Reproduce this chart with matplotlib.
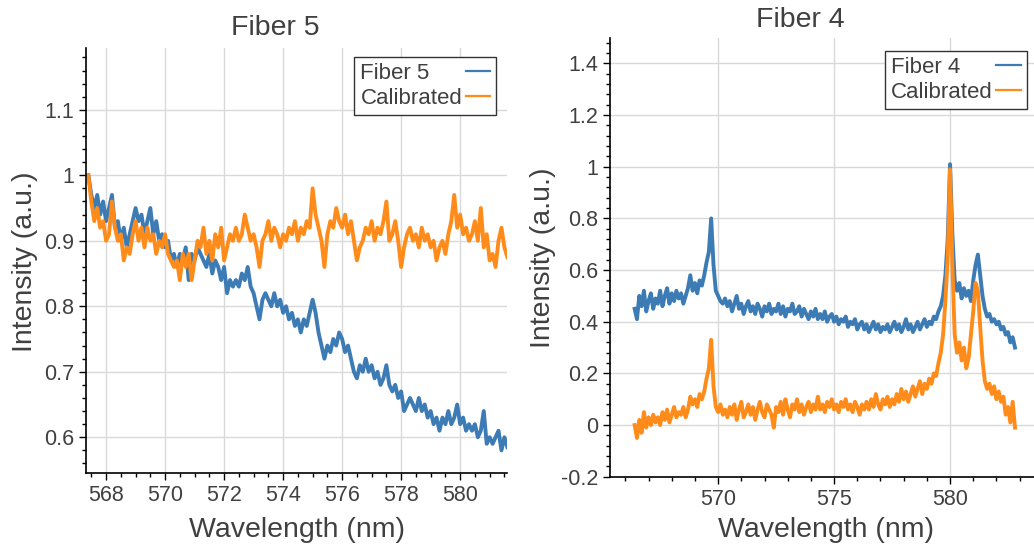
import numpy as np
import matplotlib
matplotlib.use("Agg")
from matplotlib import pyplot as plt
from matplotlib.ticker import MultipleLocator

plt.rcParams['font.family'] = ['Liberation Sans', 'DejaVu Sans']

# wavelength grids (nm)
wl5_start, wl5_step, wl5_n = 567.4, 0.1, 143
wl4_start, wl4_step, wl4_n = 566.4, 0.1, 165

# Fiber 5 spectrum and calibrated version
fiber5 = [1.00, 0.97, 0.95, 0.97, 0.94, 0.96, 0.93, 0.95, 0.97, 0.92,
          0.93, 0.90, 0.92, 0.89, 0.91, 0.93, 0.95, 0.93, 0.94, 0.91,
          0.93, 0.95, 0.91, 0.93, 0.90, 0.91, 0.89, 0.90, 0.87, 0.88,
          0.86, 0.88, 0.87, 0.89, 0.84, 0.88, 0.87, 0.89, 0.88, 0.87,
          0.86, 0.88, 0.85, 0.87, 0.86, 0.84, 0.86, 0.82, 0.84, 0.83,
          0.84, 0.83, 0.85, 0.84, 0.86, 0.83, 0.82, 0.80, 0.78, 0.81,
          0.82, 0.81, 0.80, 0.82, 0.80, 0.81, 0.79, 0.80, 0.78, 0.79,
          0.77, 0.78, 0.76, 0.78, 0.77, 0.79, 0.81, 0.79, 0.76, 0.74,
          0.72, 0.74, 0.73, 0.75, 0.74, 0.76, 0.75, 0.73, 0.74, 0.72,
          0.70, 0.69, 0.71, 0.70, 0.72, 0.70, 0.71, 0.69, 0.70, 0.68,
          0.69, 0.71, 0.68, 0.67, 0.68, 0.66, 0.67, 0.64, 0.65, 0.66,
          0.65, 0.64, 0.66, 0.64, 0.65, 0.63, 0.64, 0.62, 0.63, 0.61,
          0.63, 0.62, 0.64, 0.62, 0.63, 0.65, 0.62, 0.63, 0.61, 0.62,
          0.61, 0.62, 0.60, 0.61, 0.64, 0.59, 0.60, 0.59, 0.60, 0.61,
          0.58, 0.60, 0.585]
calib5 = [1.00, 0.96, 0.93, 0.95, 0.92, 0.93, 0.90, 0.91, 0.96, 0.92,
          0.90, 0.91, 0.87, 0.89, 0.88, 0.91, 0.93, 0.90, 0.92, 0.89,
          0.92, 0.90, 0.91, 0.88, 0.90, 0.89, 0.91, 0.88, 0.87, 0.86,
          0.87, 0.84, 0.88, 0.86, 0.88, 0.84, 0.87, 0.90, 0.89, 0.92,
          0.88, 0.90, 0.87, 0.91, 0.89, 0.92, 0.87, 0.89, 0.91, 0.90,
          0.92, 0.90, 0.91, 0.94, 0.92, 0.90, 0.91, 0.89, 0.86, 0.90,
          0.91, 0.93, 0.90, 0.92, 0.91, 0.89, 0.91, 0.90, 0.92, 0.91,
          0.93, 0.90, 0.92, 0.91, 0.93, 0.92, 0.98, 0.94, 0.92, 0.90,
          0.86, 0.91, 0.93, 0.92, 0.95, 0.93, 0.92, 0.94, 0.91, 0.93,
          0.90, 0.87, 0.89, 0.90, 0.92, 0.91, 0.93, 0.90, 0.92, 0.91,
          0.93, 0.96, 0.90, 0.91, 0.93, 0.90, 0.86, 0.89, 0.91, 0.92,
          0.90, 0.91, 0.89, 0.92, 0.90, 0.91, 0.89, 0.90, 0.87, 0.89,
          0.90, 0.88, 0.91, 0.93, 0.97, 0.92, 0.94, 0.91, 0.92, 0.90,
          0.91, 0.93, 0.90, 0.95, 0.89, 0.91, 0.87, 0.88, 0.86, 0.90,
          0.92, 0.89, 0.875]

# Fiber 4 spectrum and calibrated version
fiber4 = [0.45, 0.41, 0.50, 0.46, 0.52, 0.44, 0.48, 0.51, 0.45, 0.49,
          0.47, 0.52, 0.46, 0.50, 0.53, 0.47, 0.51, 0.48, 0.52, 0.49,
          0.51, 0.47, 0.50, 0.53, 0.58, 0.52, 0.55, 0.51, 0.56, 0.54,
          0.58, 0.63, 0.67, 0.80, 0.62, 0.52, 0.50, 0.48, 0.47, 0.49,
          0.46, 0.48, 0.44, 0.47, 0.50, 0.45, 0.47, 0.43, 0.46, 0.48,
          0.44, 0.46, 0.43, 0.47, 0.45, 0.42, 0.46, 0.44, 0.47, 0.43,
          0.45, 0.44, 0.47, 0.43, 0.46, 0.42, 0.45, 0.44, 0.47, 0.43,
          0.44, 0.46, 0.42, 0.45, 0.43, 0.41, 0.44, 0.42, 0.45, 0.41,
          0.43, 0.41, 0.44, 0.40, 0.42, 0.43, 0.40, 0.42, 0.39, 0.41,
          0.40, 0.42, 0.38, 0.40, 0.39, 0.41, 0.37, 0.39, 0.40, 0.37,
          0.39, 0.36, 0.38, 0.40, 0.37, 0.39, 0.36, 0.38, 0.37, 0.39,
          0.36, 0.38, 0.40, 0.37, 0.39, 0.36, 0.38, 0.41, 0.37, 0.39,
          0.36, 0.38, 0.40, 0.37, 0.39, 0.41, 0.38, 0.40, 0.39, 0.42,
          0.41, 0.44, 0.46, 0.50, 0.58, 0.72, 1.01, 0.74, 0.56, 0.52,
          0.55, 0.49, 0.53, 0.50, 0.52, 0.48, 0.56, 0.62, 0.66, 0.58,
          0.50, 0.45, 0.42, 0.43, 0.40, 0.41, 0.39, 0.40, 0.37, 0.38,
          0.35, 0.36, 0.32, 0.34, 0.30]
calib4 = [0.00, -0.05, 0.02, -0.03, 0.05, -0.01, 0.03, 0.00, 0.04, 0.01,
          0.03, 0.00, 0.05, 0.02, 0.06, 0.01, 0.04, 0.07, 0.03, 0.05,
          0.04, 0.07, 0.03, 0.06, 0.11, 0.08, 0.10, 0.07, 0.12, 0.10,
          0.13, 0.18, 0.22, 0.33, 0.15, 0.07, 0.05, 0.08, 0.04, 0.06,
          0.03, 0.07, 0.04, 0.08, 0.02, 0.06, 0.09, 0.03, 0.05, 0.08,
          0.04, 0.07, 0.02, 0.06, 0.09, 0.05, 0.03, 0.08, 0.06, 0.04,
          -0.01, 0.07, 0.05, 0.09, 0.04, 0.10, 0.06, 0.03, 0.08, 0.06,
          0.10, 0.05, 0.08, 0.04, 0.07, 0.09, 0.05, 0.08, 0.06, 0.11,
          0.06, 0.08, 0.05, 0.09, 0.07, 0.10, 0.06, 0.08, 0.05, 0.09,
          0.07, 0.10, 0.06, 0.08, 0.05, 0.09, 0.07, 0.04, 0.08, 0.06,
          0.09, 0.06, 0.10, 0.07, 0.12, 0.08, 0.06, 0.10, 0.08, 0.11,
          0.07, 0.10, 0.08, 0.12, 0.09, 0.14, 0.10, 0.13, 0.09, 0.12,
          0.15, 0.11, 0.14, 0.17, 0.12, 0.16, 0.14, 0.18, 0.16, 0.20,
          0.19, 0.24, 0.28, 0.35, 0.48, 0.65, 0.99, 0.62, 0.35, 0.28,
          0.32, 0.25, 0.30, 0.22, 0.26, 0.35, 0.44, 0.55, 0.52, 0.38,
          0.25, 0.17, 0.14, 0.16, 0.12, 0.15, 0.10, 0.13, 0.09, 0.11,
          0.04, 0.07, 0.01, 0.09, -0.01]

wl5 = wl5_start + wl5_step * np.arange(wl5_n)
wl4 = wl4_start + wl4_step * np.arange(wl4_n)

blue = '#3d7bb5'
orange = '#ff8c1a'
txt = '#404040'

fig = plt.figure(figsize=(10.34, 5.54), dpi=100)
ax1 = fig.add_axes([0.0829, 0.1457, 0.4072, 0.7684])
ax2 = fig.add_axes([0.5900, 0.1395, 0.4100, 0.7926])


def style(ax, xl, yl):
    for s in ['top', 'right']:
        ax.spines[s].set_visible(False)
    for s in ['left', 'bottom']:
        ax.spines[s].set_color('black')
        ax.spines[s].set_linewidth(1.2)
    ax.grid(True, which='major', color='#d9d9d9', linewidth=1.0)
    ax.set_axisbelow(True)
    ax.tick_params(which='major', direction='out', length=5, width=1.0,
                   labelsize=15.5, labelcolor=txt, color='black')
    ax.tick_params(which='minor', direction='out', length=3, width=1.0, color='black')
    ax.set_xlabel('Wavelength (nm)', fontsize=20.5, color=txt, va='center')
    ax.set_ylabel('Intensity (a.u.)', fontsize=20.5, color=txt, va='center')
    ax.xaxis.set_label_coords(*xl)
    ax.yaxis.set_label_coords(*yl)


def legend(ax, anchor):
    leg = ax.legend(loc='upper right', bbox_to_anchor=anchor, markerfirst=False,
                    fontsize=16, handlelength=1.1, handletextpad=0.15, labelspacing=0.18,
                    borderpad=0.28, borderaxespad=0, fancybox=False, framealpha=1,
                    edgecolor='#333333', labelcolor=txt)
    leg.get_frame().set_linewidth(1.0)
    for line in leg.get_lines():
        line.set_linewidth(1.6)
    # left-align the label texts, keep the line samples in one column on the right
    vbox = leg._legend_handle_box.get_children()[0]
    fig.canvas.draw()
    r = fig.canvas.get_renderer()
    rows = vbox.get_children()
    w = max(row.get_bbox(r).width for row in rows)
    for row in rows:
        row.mode = 'expand'
        row.width = w


# Fiber 5
ax1.plot(wl5, fiber5, color=blue, lw=2.8, label='Fiber 5')
ax1.plot(wl5, calib5, color=orange, lw=2.8, label='Calibrated')
ax1.set_xlim(567.31, 581.58)
ax1.set_ylim(0.545, 1.195)
ax1.xaxis.set_major_locator(MultipleLocator(2))
ax1.xaxis.set_minor_locator(MultipleLocator(0.5))
ax1.yaxis.set_major_locator(MultipleLocator(0.1))
ax1.yaxis.set_minor_locator(MultipleLocator(0.02))
ax1.yaxis.set_major_formatter(plt.FuncFormatter(lambda v, p: '%g' % round(v, 2)))
style(ax1, (0.502, -0.133), (-0.144, 0.496))
legend(ax1, (0.975, 0.978))
fig.text(275 / 1034, 1 - 28 / 554, 'Fiber 5', fontsize=20.5, color=txt, ha='center', va='center')

# Fiber 4
ax2.plot(wl4, fiber4, color=blue, lw=2.8, label='Fiber 4')
ax2.plot(wl4, calib4, color=orange, lw=2.8, label='Calibrated')
ax2.set_xlim(565.34, 583.62)
ax2.set_ylim(-0.2, 1.5)
ax2.xaxis.set_major_locator(MultipleLocator(5))
ax2.xaxis.set_minor_locator(MultipleLocator(1))
ax2.yaxis.set_major_locator(MultipleLocator(0.2))
ax2.yaxis.set_minor_locator(MultipleLocator(0.04))
ax2.yaxis.set_major_formatter(plt.FuncFormatter(lambda v, p: '%g' % round(v, 2)))
style(ax2, (0.509, -0.121), (-0.158, 0.498))
legend(ax2, (0.9835, 0.970))
fig.text(800 / 1034, 1 - 20 / 554, 'Fiber 4', fontsize=20.5, color=txt, ha='center', va='center')

fig.savefig('out.png', dpi=100)
